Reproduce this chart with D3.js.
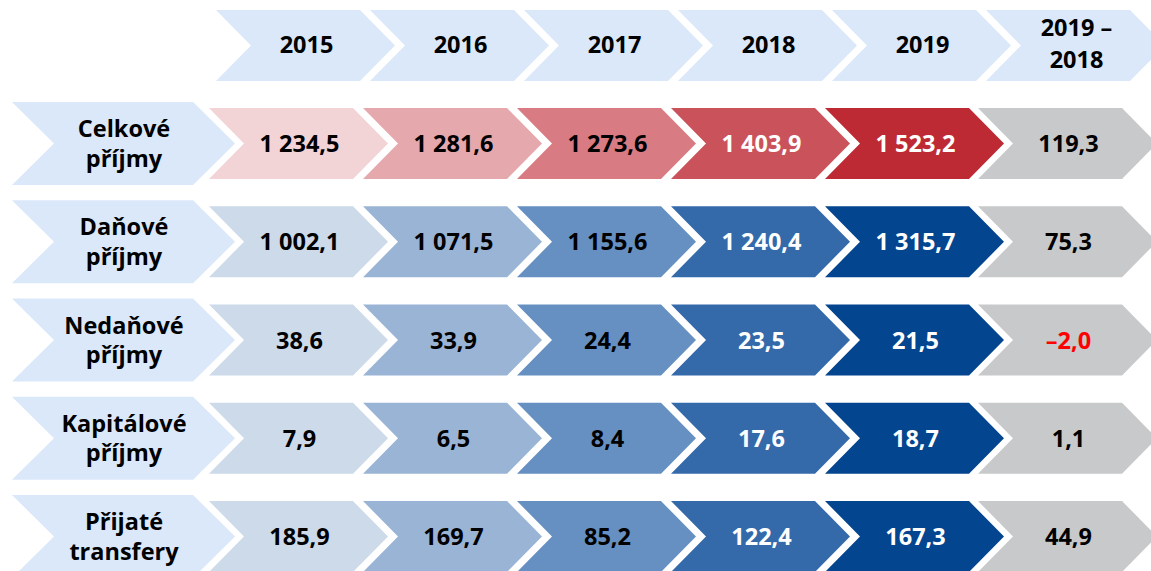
<!DOCTYPE html>
<html>
<head>
<meta charset="utf-8">
<script src="https://cdn.jsdelivr.net/npm/d3@7"></script>
<style>
	body { margin: 0; background: #fff; }
	text { font-family: 'Open Sans', sans-serif; font-weight: bold; }
</style>
</head>
<body>
<svg id="chart"></svg>
<script>
// Příjmy – chevron table, 2015–2019 and change 2019/2018 (d3 v7)
var years = ['2015', '2016', '2017', '2018', '2019'];
var diffHeader = ['2019 –', '2018'];
var rowLabels = [
	['Celkové', 'příjmy'],
	['Daňové', 'příjmy'],
	['Nedaňové', 'příjmy'],
	['Kapitálové', 'příjmy'],
	['Přijaté', 'transfery']
];
var celkove = [1234.5, 1281.6, 1273.6, 1403.9, 1523.2];
var danove = [1002.1, 1071.5, 1155.6, 1240.4, 1315.7];
var nedanove = [38.6, 33.9, 24.4, 23.5, 21.5];
var kapitalove = [7.9, 6.5, 8.4, 17.6, 18.7];
var prijate = [185.9, 169.7, 85.2, 122.4, 167.3];
var zmena = [119.3, 75.3, -2.0, 1.1, 44.9];

var redShades = ['#F2D3D6', '#E5A8AC', '#D87B82', '#CA525A', '#BE2A33'];
var blueShades = ['#CDDAE9', '#9AB4D6', '#6690C1', '#3469AA', '#03458F'];
var headerFill = '#DAE8FA';
var diffFill = '#C8C9CB';

var series = [celkove, danove, nedanove, kapitalove, prijate];
var rowKeys = rowLabels.map(function(d) { return d.join(' '); });
var cols = years.concat(['diff']);

var W = 1151, H = 571;
var svg = d3.select('#chart').attr('width', W).attr('height', H);

var cz = d3.formatLocale({decimal: ',', thousands: '\u00a0', grouping: [3], currency: ['', ' Kč'], minus: '\u2013'});
var fmt = cz.format(',.1f');

var x = d3.scaleBand().domain(cols).range([216, 216 + cols.length * 154]).padding(0);
var y = d3.scalePoint().domain(rowKeys).range([143.5, 536.5]);

var bodyW = 144, depth = 35, half = 35.5;

function chevron(x0, cy, w, d, h) {
	var p = d3.path();
	p.moveTo(x0, cy - h);
	p.lineTo(x0 + w, cy - h);
	p.lineTo(x0 + w + d, cy);
	p.lineTo(x0 + w, cy + h);
	p.lineTo(x0, cy + h);
	p.lineTo(x0 + d, cy);
	p.closePath();
	return p.toString();
}

// header
var head = svg.append('g');
cols.forEach(function(c) {
	head.append('path')
		.attr('d', chevron(x(c), 45.5, bodyW, depth, half))
		.attr('fill', headerFill);
	var t = head.append('text')
		.attr('x', x(c) + 90.5)
		.attr('text-anchor', 'middle')
		.attr('font-size', 23.5)
		.attr('fill', '#000');
	if (c === 'diff') {
		t.append('tspan').attr('x', x(c) + 90.5).attr('y', 36).text(diffHeader[0]);
		t.append('tspan').attr('x', x(c) + 90.5).attr('y', 68).text(diffHeader[1]);
	} else {
		t.attr('y', 53).text(c);
	}
});

// row labels
var labels = svg.append('g');
rowLabels.forEach(function(lines, i) {
	var cy = y(rowKeys[i]);
	labels.append('path')
		.attr('d', chevron(12, cy, 181, 42, 41.5))
		.attr('fill', headerFill);
	var t = labels.append('text')
		.attr('text-anchor', 'middle')
		.attr('font-size', 23.5)
		.attr('fill', '#000');
	t.append('tspan').attr('x', 124).attr('y', cy - 6.5).text(lines[0]);
	t.append('tspan').attr('x', 124).attr('y', cy + 23).text(lines[1]);
});

// cells
var cells = svg.append('g');
series.forEach(function(vals, i) {
	var cy = y(rowKeys[i]);
	var shades = i === 0 ? redShades : blueShades;
	vals.forEach(function(v, j) {
		var cx = x(years[j]) - 7;
		cells.append('path')
			.attr('d', chevron(cx, cy, bodyW, depth, half))
			.attr('fill', shades[j]);
		cells.append('text')
			.attr('x', cx + 90.5)
			.attr('y', cy + 8.5)
			.attr('text-anchor', 'middle')
			.attr('font-size', 23.5)
			.attr('fill', j >= 3 ? '#fff' : '#000')
			.text(fmt(v));
	});
	var dx = x('diff') - 8;
	cells.append('path')
		.attr('d', chevron(dx, cy, bodyW, depth, half))
		.attr('fill', diffFill);
	cells.append('text')
		.attr('x', dx + 90.5)
		.attr('y', cy + 8.5)
		.attr('text-anchor', 'middle')
		.attr('font-size', 23.5)
		.attr('fill', zmena[i] < 0 ? '#FF0000' : '#000')
		.text(fmt(zmena[i]));
});
</script>
</body>
</html>
